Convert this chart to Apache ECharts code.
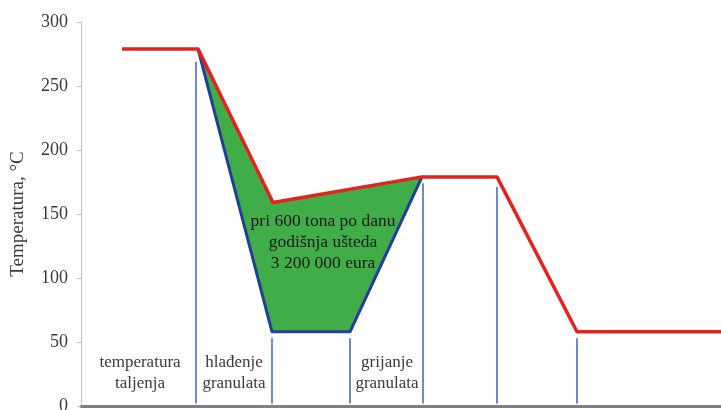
<!DOCTYPE html>
<html>
<head>
<meta charset="utf-8">
<script src="https://cdn.jsdelivr.net/npm/echarts@6/dist/echarts.min.js"></script>
<style>
html,body{margin:0;padding:0;background:#fff;}
#c{width:721px;height:410px;}
</style>
</head>
<body>
<div id="c"></div>
<script>
// Process axis (arbitrary units) and temperatures (°C)
var redX = [41, 117, 192, 341, 416, 496, 640];
var redY = [279, 279, 159, 179, 179, 58, 58];
var blueX = [117, 191, 269, 341];
var blueY = [279, 58, 58, 179];
// vertical phase separators: x, bottom, top
var sepX = [115, 191, 269, 342, 416, 496];
var sepBottom = [2, 2, 2, 2, 2, 2];
var sepTop = [269, 53, 53, 174, 171, 53];
// phase labels
var phaseText = ['temperatura\ntaljenja', 'hlađenje\ngranulata', 'grijanje\ngranulata'];
var phaseX = [59, 153, 306];
var phaseY = [26, 26, 26];
var noteText = 'pri 600 tona po danu\ngodišnja ušteda\n3 200 000 eura';
var noteX = 242, noteY = 128;
var yTicks = [0, 50, 100, 150, 200, 250, 300];

var redData = redX.map(function (x, i) { return [x, redY[i]]; });
var blueData = blueX.map(function (x, i) { return [x, blueY[i]]; });
// green area: red path between the blue endpoints, back along blue path
var areaPts = [[redX[1], redY[1]], [redX[2], redY[2]], [redX[3], redY[3]], [blueX[2], blueY[2]], [blueX[1], blueY[1]]];
var sepData = sepX.map(function (x, i) { return [x, sepBottom[i], sepTop[i]]; });
var phaseData = phaseX.map(function (x, i) { return [x, phaseY[i], i]; });

var serif = '"Liberation Serif","DejaVu Serif",serif';
var chart = echarts.init(document.getElementById('c'));
chart.setOption({
  animation: false,
  grid: { left: 81, right: 0, top: 22, bottom: 4, containLabel: false, outerBoundsMode: 'none' },
  xAxis: {
    type: 'value', min: 0, max: 640,
    axisLine: { show: true, lineStyle: { color: '#7f7f7f', width: 3 } },
    axisTick: { show: false }, axisLabel: { show: false }, splitLine: { show: false }
  },
  yAxis: {
    type: 'value', min: yTicks[0], max: yTicks[yTicks.length - 1], interval: 50,
    name: 'Temperatura, °C', nameLocation: 'middle', nameGap: 53,
    nameTextStyle: { fontFamily: serif, fontSize: 19, color: '#3a3a3a' },
    axisLine: { show: true, lineStyle: { color: '#bfbfbf', width: 1 } },
    axisTick: { show: true, length: 4, lineStyle: { color: '#bfbfbf' } },
    axisLabel: { fontFamily: serif, fontSize: 18, color: '#3a3a3a', margin: 13 },
    splitLine: { show: false }
  },
  series: [
    {
      type: 'custom', z: 1, data: [0],
      renderItem: function (params, api) {
        var pts = areaPts.map(function (p) { return api.coord(p); });
        return { type: 'polygon', shape: { points: pts }, style: { fill: '#40ad48', stroke: null } };
      }
    },
    {
      type: 'custom', z: 2, data: sepData,
      renderItem: function (params, api) {
        var a = api.coord([api.value(0), api.value(1)]);
        var b = api.coord([api.value(0), api.value(2)]);
        return { type: 'line', shape: { x1: a[0], y1: a[1], x2: b[0], y2: b[1] },
          style: { stroke: '#4a6cc2', lineWidth: 1.6 } };
      }
    },
    {
      type: 'line', z: 3, data: blueData, symbol: 'none',
      lineStyle: { color: '#203f97', width: 3 }
    },
    {
      type: 'line', z: 4, data: redData, symbol: 'none',
      lineStyle: { color: '#e3231d', width: 3.5 }
    },
    {
      type: 'custom', z: 5, data: phaseData,
      renderItem: function (params, api) {
        var p = api.coord([api.value(0), api.value(1)]);
        return { type: 'text', x: p[0], y: p[1],
          style: { text: phaseText[api.value(2)], fill: '#3a3a3a', font: '17px ' + serif,
            align: 'center', verticalAlign: 'middle', lineHeight: 21 } };
      }
    },
    {
      type: 'custom', z: 5, data: [[noteX, noteY]],
      renderItem: function (params, api) {
        var p = api.coord([api.value(0), api.value(1)]);
        return { type: 'text', x: p[0], y: p[1],
          style: { text: noteText, fill: '#1a1a1a', font: '17.5px ' + serif,
            align: 'center', verticalAlign: 'middle', lineHeight: 21 } };
      }
    }
  ]
});
</script>
</body>
</html>
